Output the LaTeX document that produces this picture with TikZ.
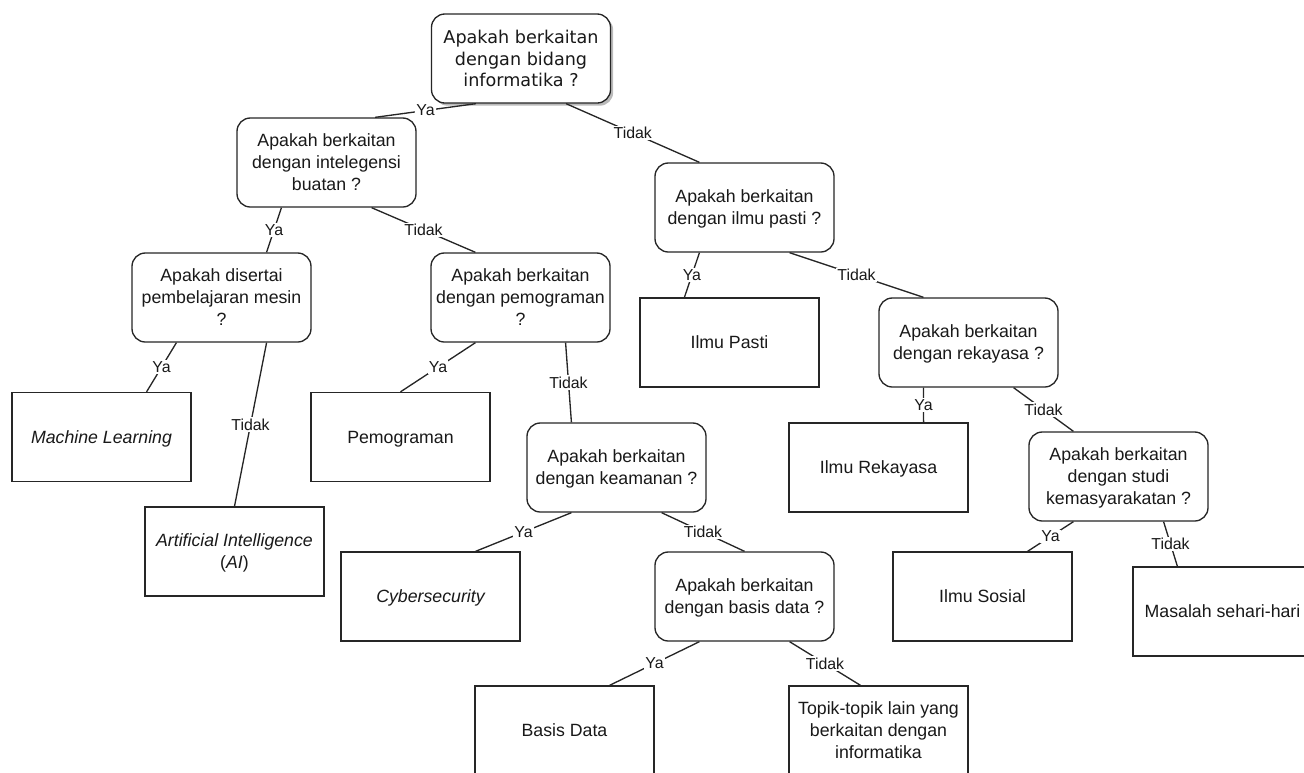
\documentclass[tikz,border=0pt]{standalone}
\usepackage{fontspec}
\setmainfont{Liberation Sans}
\newfontfamily\rootfont{DejaVu Sans}
\usetikzlibrary{calc,shadows}
\tikzset{
  box/.style={draw=black!85, line width=1pt, fill=white, minimum width=134.25pt, minimum height=66.75pt,
    align=center, inner sep=2pt, font=\fontsize{13.3pt}{16.5pt}\selectfont, text=black!90,
    text depth=0pt},
  qbox/.style={box, rounded corners=10pt},
  rootbox/.style={qbox, font=\rootfont\fontsize{13.2pt}{16pt}\selectfont,
    drop shadow={shadow xshift=2pt, shadow yshift=-2pt, opacity=0.45, fill=black!60}},
  edge/.style={draw=black!85, line width=1pt},
  lbl/.style={fill=white, inner sep=1pt, font=\fontsize{11.9pt}{13pt}\selectfont, text=black!90},
}
\newcommand{\bpt}[2]{($(#1.south west)!#2!(#1.south east)$)}
\newcommand{\tpt}[2]{($(#1.north west)!#2!(#1.north east)$)}
\begin{document}
\begin{tikzpicture}[x=0.75pt, y=-0.75pt]
\useasboundingbox (0,0) rectangle (1304,772);
\node[rootbox] (root) at (521,58.5) {Apakah berkaitan\\dengan bidang\\informatika ?};
\node[qbox] (q1) at (326.5,162.5) {Apakah berkaitan\\dengan intelegensi\\buatan ?};
\node[qbox] (q2) at (744.5,207.5) {Apakah berkaitan\\dengan ilmu pasti ?};
\node[qbox] (q3) at (221.5,297.5) {Apakah disertai\\pembelajaran mesin\\?};
\node[qbox] (q4) at (520.5,297.5) {Apakah berkaitan\\dengan pemograman\\?};
\node[box] (ip) at (729.5,342.5) {Ilmu Pasti};
\node[qbox] (q5) at (968.5,342.5) {Apakah berkaitan\\dengan rekayasa ?};
\node[box] (ml) at (101.5,437) {\itshape Machine Learning};
\node[box] (pem) at (400.5,437) {Pemograman};
\node[qbox] (q6) at (616.5,467.5) {Apakah berkaitan\\dengan keamanan ?};
\node[box] (ir) at (878.5,467.5) {Ilmu Rekayasa};
\node[qbox] (q7) at (1118.5,476.5) {Apakah berkaitan\\dengan studi\\kemasyarakatan ?};
\node[box] (ai) at (234.5,551.5) {\itshape Artificial Intelligence\\(\textit{AI})};
\node[box] (cs) at (430.5,596.5) {\itshape Cybersecurity};
\node[qbox] (q8) at (744.5,596.5) {Apakah berkaitan\\dengan basis data ?};
\node[box] (is) at (982.5,596.5) {Ilmu Sosial};
\node[box] (ms) at (1222.5,611.5) {Masalah sehari-hari};
\node[box] (bd) at (564.5,730.5) {Basis Data};
\node[box] (tp) at (878.5,730.5) {Topik-topik lain yang\\berkaitan dengan\\informatika};

\draw[edge] \bpt{root}{0.25} -- node[lbl,midway]{Ya} \tpt{q1}{0.77};
\draw[edge] \bpt{root}{0.75} -- node[lbl,midway]{Tidak} \tpt{q2}{0.25};
\draw[edge] \bpt{q1}{0.25} -- node[lbl,midway]{Ya} \tpt{q3}{0.75};
\draw[edge] \bpt{q1}{0.75} -- node[lbl,midway]{Tidak} \tpt{q4}{0.25};
\draw[edge] \bpt{q2}{0.25} -- node[lbl,midway]{Ya} \tpt{ip}{0.25};
\draw[edge] \bpt{q2}{0.75} -- node[lbl,midway]{Tidak} \tpt{q5}{0.25};
\draw[edge] \bpt{q3}{0.25} -- node[lbl,midway]{Ya} \tpt{ml}{0.75};
\draw[edge] \bpt{q3}{0.75} -- node[lbl,midway]{Tidak} \tpt{ai}{0.5};
\draw[edge] \bpt{q4}{0.25} -- node[lbl,midway]{Ya} \tpt{pem}{0.5};
\draw[edge] \bpt{q4}{0.75} -- node[lbl,midway]{Tidak} \tpt{q6}{0.25};
\draw[edge] \bpt{q5}{0.25} -- node[lbl,midway]{Ya} \tpt{ir}{0.75};
\draw[edge] \bpt{q5}{0.75} -- node[lbl,midway]{Tidak} \tpt{q7}{0.25};
\draw[edge] \bpt{q6}{0.25} -- node[lbl,midway]{Ya} \tpt{cs}{0.75};
\draw[edge] \bpt{q6}{0.75} -- node[lbl,midway]{Tidak} \tpt{q8}{0.5};
\draw[edge] \bpt{q7}{0.25} -- node[lbl,midway]{Ya} \tpt{is}{0.75};
\draw[edge] \bpt{q7}{0.75} -- node[lbl,midway]{Tidak} \tpt{ms}{0.25};
\draw[edge] \bpt{q8}{0.25} -- node[lbl,midway]{Ya} \tpt{bd}{0.75};
\draw[edge] \bpt{q8}{0.75} -- node[lbl,midway]{Tidak} \tpt{tp}{0.4};
\end{tikzpicture}
\end{document}
